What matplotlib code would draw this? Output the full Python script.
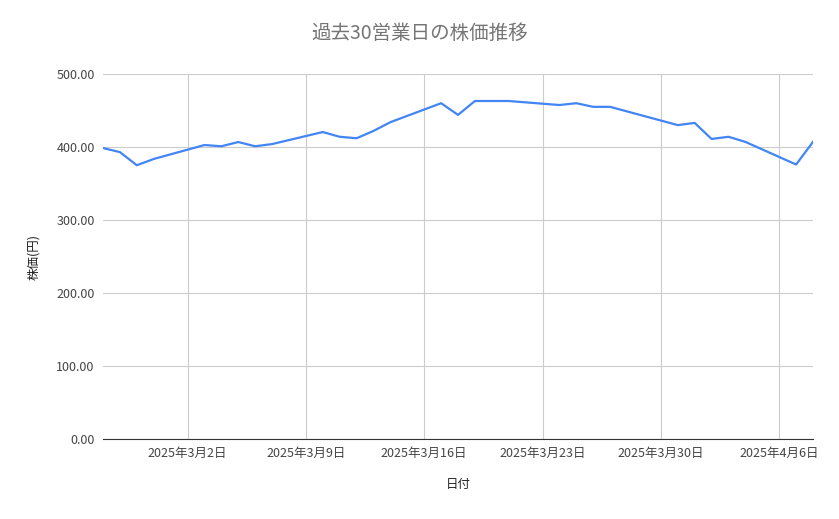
import datetime as dt
import matplotlib
matplotlib.use('Agg')
import matplotlib.pyplot as plt

plt.rcParams['font.family'] = ['Noto Sans CJK JP', 'DejaVu Sans']

# day offsets from 2025-02-25 and prices
day_offsets = [0, 1, 2, 3, 6, 7, 8, 9, 10, 13, 14, 15, 16, 17, 20, 21, 22, 24,
               27, 28, 29, 30, 34, 35, 36, 37, 38, 41, 42]
prices = [398.6, 393, 375, 383.6, 402.7, 401, 406.8, 401, 404, 420.5, 414, 412,
          422, 434, 460, 444, 463, 463, 457.5, 460, 455, 455, 430, 433, 411, 414,
          407, 376, 407]
start = dt.date(2025, 2, 25)
dates = [start + dt.timedelta(days=d) for d in day_offsets]
tick_dates = [dt.date(2025, 3, 2) + dt.timedelta(days=7 * i) for i in range(6)]
tick_labels = [f'{d.year}年{d.month}月{d.day}日' for d in tick_dates]
y_ticks = [0, 100, 200, 300, 400, 500]

fig = plt.figure(figsize=(8.39, 5.19), dpi=100)
ax = fig.add_axes([103 / 839, 1 - 439 / 519, 710 / 839, 365 / 519])
ax.plot(dates, prices, color='#4285F4', linewidth=1.6)

ax.set_xlim(start, start + dt.timedelta(days=42))
ax.set_ylim(0, 500)
ax.set_xticks(tick_dates)
ax.set_xticklabels(tick_labels)
ax.set_yticks(y_ticks)
ax.set_yticklabels([f'{v:.2f}' for v in y_ticks])
ax.grid(True, color='#cccccc', linewidth=0.8)
ax.tick_params(length=0, colors='#444444', labelsize=9, pad=6)
for side in ['top', 'right', 'left']:
    ax.spines[side].set_visible(False)
ax.spines['bottom'].set_color('#333333')

ax.set_xlabel('日付', fontsize=9, color='#222222', labelpad=13)
ax.set_ylabel('株価(円)', fontsize=9, color='#222222', labelpad=12)
fig.suptitle('過去30営業日の株価推移', x=0.5, y=0.955, fontsize=14, color='#757575')

fig.savefig('out.png', dpi=100)
